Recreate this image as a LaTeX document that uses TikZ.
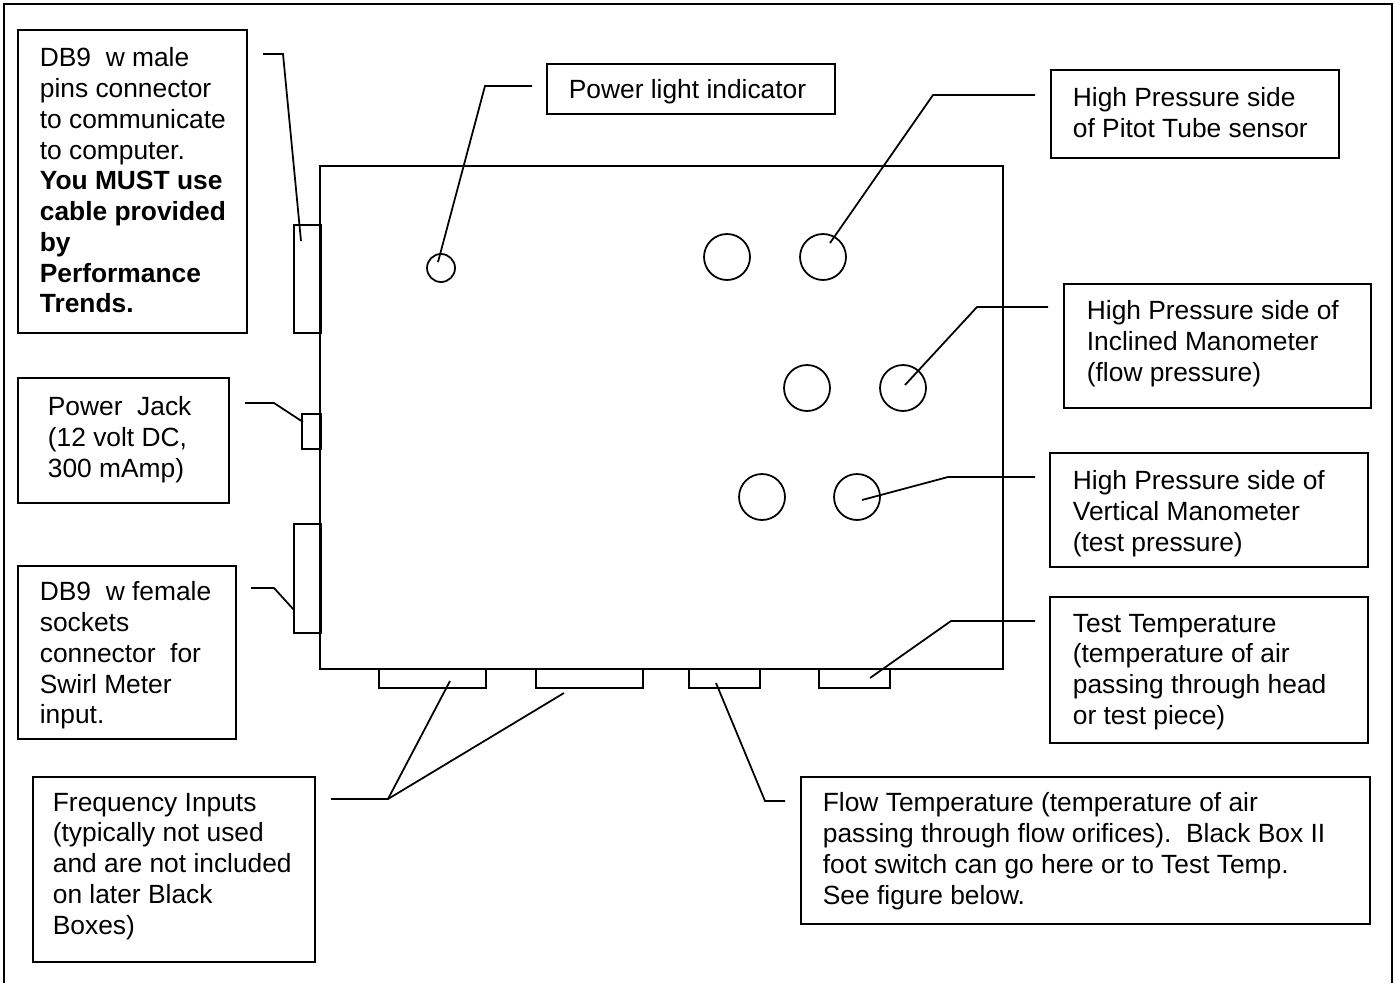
\documentclass[tikz,border=0pt]{standalone}
\usepackage{fontspec}
\setmainfont{Liberation Sans}
\usepackage{tikz}
\usetikzlibrary{calc}

\begin{document}
\begin{tikzpicture}[x=0.02cm, y=-0.02cm, line width=1pt,
  txt/.style={anchor=north west, inner sep=0pt, align=left,
    font=\fontsize{15pt}{17.5pt}\selectfont},
  fitting/.style={circle, draw, inner sep=0pt, minimum size=0.92cm}]

\useasboundingbox (0,0) rectangle (1395,983);

% page frame
\draw (4,983) -- (4,4) -- (1392,4) -- (1392,983);

% the box itself
\draw (320,166) rectangle (1003,669);

% connectors on the left side
\draw (294,225) rectangle (321,333);
\draw (302,414) rectangle (321,449);
\draw (294,524) rectangle (321,633);

% connectors on the bottom
\draw (379,669) rectangle (486,688);
\draw (536,669) rectangle (643,688);
\draw (689,669) rectangle (760,688);
\draw (819,669) rectangle (890,688);

% power light and pressure fittings
\node[circle, draw, inner sep=0pt, minimum size=0.56cm] (light) at (441,268) {};
\node[fitting] (pitot-lo) at (727,257) {};
\node[fitting] (pitot-hi) at (823,257) {};
\node[fitting] (incl-lo) at (807,388) {};
\node[fitting] (incl-hi) at (903,388) {};
\node[fitting] (vert-lo) at (762,497) {};
\node[fitting] (vert-hi) at (857,497) {};

% label boxes
\draw (18,30) rectangle (247,333);
\node[txt] (male) at (39,47)
{DB9\ \ w male\\
pins connector\\
to communicate\\
to computer.\\
\textbf{You MUST use}\\
\textbf{cable provided}\\
\textbf{by}\\
\textbf{Performance}\\
\textbf{Trends.}};

\draw (18,378) rectangle (229,503);
\node[txt] (jack) at (47,396)
{Power\ \ Jack\\
(12 volt DC,\\
300 mAmp)};

\draw (18,566) rectangle (236,739);
\node[txt] (female) at (39,581)
{DB9\ \ w female\\
sockets\\
connector\ \ for\\
Swirl Meter\\
input.};

\draw (33,777) rectangle (315,962);
\node[txt] (freq) at (52,792)
{Frequency Inputs\\
(typically not used\\
and are not included\\
on later Black\\
Boxes)};

\draw (547,64) rectangle (835,114);
\node[txt] (lighttxt) at (568,79) {Power light indicator};

\draw (1051,70) rectangle (1339,158);
\node[txt] (pitot) at (1072,87)
{High Pressure side\\
of Pitot Tube sensor};

\draw (1064,284) rectangle (1371,408);
\node[txt] (incl) at (1086,300)
{High Pressure side of\\
Inclined Manometer\\
(flow pressure)};

\draw (1050,453) rectangle (1368,567);
\node[txt] (vert) at (1072,470)
{High Pressure side of\\
Vertical Manometer\\
(test pressure)};

\draw (1050,597) rectangle (1368,743);
\node[txt] (test) at (1072,613)
{Test Temperature\\
(temperature of air\\
passing through head\\
or test piece)};

\draw (801,777) rectangle (1370,924);
\node[txt] (flow) at (822,792)
{Flow Temperature (temperature of air\\
passing through flow orifices).\ \ Black Box II\\
foot switch can go here or to Test Temp.\\
See figure below.};

% leader points
\coordinate (male-a) at (263,54);   \coordinate (male-b) at (283,54);   \coordinate (male-c) at (301,241);
\coordinate (jack-a) at (245,403);  \coordinate (jack-b) at (274,403);  \coordinate (jack-c) at (303,422);
\coordinate (fem-a) at (251,588);   \coordinate (fem-b) at (274,588);   \coordinate (fem-c) at (294,610);
\coordinate (freq-a) at (331,799);  \coordinate (freq-b) at (388,799);
\coordinate (freq-c) at (450,681);  \coordinate (freq-d) at (564,693);
\coordinate (flow-a) at (716,683);  \coordinate (flow-b) at (765,801);  \coordinate (flow-c) at (785,801);
\coordinate (test-a) at (870,678);  \coordinate (test-b) at (951,621);  \coordinate (test-c) at (1035,621);
\coordinate (light-a) at (438,262); \coordinate (light-b) at (485,86);  \coordinate (light-c) at (532,86);
\coordinate (pitot-a) at (830,243); \coordinate (pitot-b) at (933,95);  \coordinate (pitot-c) at (1035,95);
\coordinate (incl-a) at (905,385);  \coordinate (incl-b) at (977,307);  \coordinate (incl-c) at (1048,307);
\coordinate (vert-a) at (862,500);  \coordinate (vert-b) at (948,477);  \coordinate (vert-c) at (1035,477);

% leaders
\draw (male-a) -- (male-b) -- (male-c);
\draw (jack-a) -- (jack-b) -- (jack-c);
\draw (fem-a) -- (fem-b) -- (fem-c);
\draw (freq-a) -- (freq-b) -- (freq-c);
\draw (freq-b) -- (freq-d);
\draw (flow-a) -- (flow-b) -- (flow-c);
\draw (test-a) -- (test-b) -- (test-c);
\draw (light-a) -- (light-b) -- (light-c);
\draw (pitot-a) -- (pitot-b) -- (pitot-c);
\draw (incl-a) -- (incl-b) -- (incl-c);
\draw (vert-a) -- (vert-b) -- (vert-c);

\end{tikzpicture}
\end{document}
